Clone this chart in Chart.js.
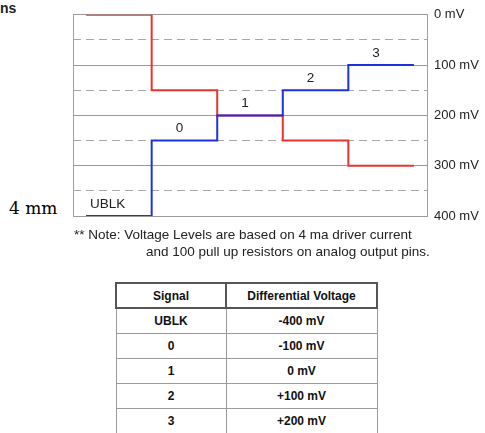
<!DOCTYPE html>
<html lang="en">
<head>
    <meta charset="UTF-8">
    <title>Differential voltage levels</title>
    <script src="https://cdn.jsdelivr.net/npm/chart.js"></script>
    <style>
        body {
            margin: 0;
            width: 485px;
            height: 433px;
            background: #fff;
            position: relative;
            overflow: hidden;
            font-family: "Liberation Sans", Arial, sans-serif;
            color: #222;
        }
        #levelChart {
            position: absolute;
            left: 0;
            top: 0;
        }
        .cut {
            position: absolute;
            left: 0;
            top: 0;
            font-size: 14px;
            font-weight: bold;
        }
        .scale-note {
            position: absolute;
            left: 9px;
            top: 198px;
            font-family: "DejaVu Serif", "Liberation Serif", serif;
            font-size: 17px;
            color: #000;
        }
        .note {
            position: absolute;
            font-size: 13.5px;
            white-space: nowrap;
        }
        table {
            position: absolute;
            left: 115px;
            top: 282px;
            width: 263px;
            border-collapse: collapse;
            font-size: 12px;
            font-weight: bold;
            color: #111;
        }
        td, th {
            text-align: center;
            border: 1px solid #9a9a9a;
            height: 24px;
            padding: 0;
        }
        th {
            border: 2px solid #555;
            height: 23px;
        }
        td:first-child, th:first-child { width: 108px; }
    </style>
</head>
<body>

<div class="cut">ns</div>
<div class="scale-note">4 mm</div>
<canvas id="levelChart" width="485" height="232"></canvas>
<div class="note" style="left:74px; top:227px;">** Note: Voltage Levels are based on 4 ma driver current</div>
<div class="note" style="left:146px; top:244px;">and 100 pull up resistors on analog output pins.</div>
<table id="levelTable"></table>

<script>
    // step edges along the time axis (0..5) and level in mV (0 at top)
    const steps = [0, 1, 2, 3, 4, 5];
    const redLevels = [0, 150, 200, 250, 300, 300];
    const blueLevels = [400, 250, 200, 150, 100, 100];
    const stepLabels = ['UBLK', '0', '1', '2', '3'];
    const yTicks = [0, 100, 200, 300, 400];

    const signals = ['UBLK', '0', '1', '2', '3'];
    const diffVoltages = ['-400 mV', '-100 mV', '0 mV', '+100 mV', '+200 mV'];

    const xMin = -0.2, xMax = 5.2;

    // table
    const table = document.getElementById('levelTable');
    let html = '<tr><th>Signal</th><th>Differential Voltage</th></tr>';
    signals.forEach((s, i) => {
        html += '<tr><td>' + s + '</td><td>' + diffVoltages[i] + '</td></tr>';
    });
    table.innerHTML = html;

    const toPoints = levels => steps.map((x, i) => ({ x: x, y: levels[i] }));

    // labels sit above each blue segment (segment i runs from step i to i+1)
    const stepText = {
        id: 'stepText',
        afterDatasetsDraw(chart) {
            const { ctx, scales: { x, y } } = chart;
            ctx.save();
            ctx.font = '13.5px "Liberation Sans", Arial, sans-serif';
            ctx.fillStyle = '#222';
            ctx.textBaseline = 'middle';
            stepLabels.forEach((label, i) => {
                const py = y.getPixelForValue(blueLevels[i]) - 12;
                if (i === 0) {
                    ctx.textAlign = 'left';
                    ctx.fillText(label, x.getPixelForValue(i) + 4, py);
                } else {
                    ctx.textAlign = 'center';
                    ctx.fillText(label, x.getPixelForValue(i + 0.5) - 5, py);
                }
            });
            ctx.restore();
        }
    };

    new Chart(document.getElementById('levelChart'), {
        type: 'line',
        data: {
            datasets: [{
                data: toPoints(redLevels),
                borderColor: '#e8342c',
                borderWidth: 2,
                stepped: 'before',
                pointRadius: 0,
                order: 2
            }, {
                data: toPoints(blueLevels),
                borderColor: '#1e32dc',
                borderWidth: 2,
                stepped: 'before',
                pointRadius: 0,
                order: 1
            }]
        },
        options: {
            responsive: false,
            animation: false,
            layout: { padding: { left: 73, top: 14, bottom: 16, right: 0 } },
            plugins: {
                legend: { display: false },
                tooltip: { enabled: false }
            },
            scales: {
                x: {
                    type: 'linear',
                    min: xMin,
                    max: xMax,
                    afterBuildTicks: s => { s.ticks = [{ value: xMin }, { value: xMax }]; },
                    afterFit: s => { s.height = 0; },
                    ticks: { display: false },
                    grid: { color: '#a0a0a0', drawTicks: false },
                    border: { display: false }
                },
                y: {
                    position: 'right',
                    reverse: true,
                    min: 0,
                    max: 400,
                    afterFit: s => { s.width = 58; },
                    ticks: {
                        stepSize: 50,
                        padding: 7,
                        color: '#222',
                        font: { family: '"Liberation Sans", Arial, sans-serif', size: 13 },
                        callback: v => yTicks.includes(v) ? v + ' mV' : ''
                    },
                    grid: {
                        drawTicks: false,
                        color: ctx => (ctx.tick && ctx.tick.value % 100) ? '#a8a8a8' : '#9a9a9a'
                    },
                    border: {
                        color: '#a0a0a0',
                        dash: ctx => (ctx.tick && ctx.tick.value % 100) ? [8, 5] : []
                    }
                }
            }
        },
        plugins: [stepText]
    });
</script>

</body>
</html>
